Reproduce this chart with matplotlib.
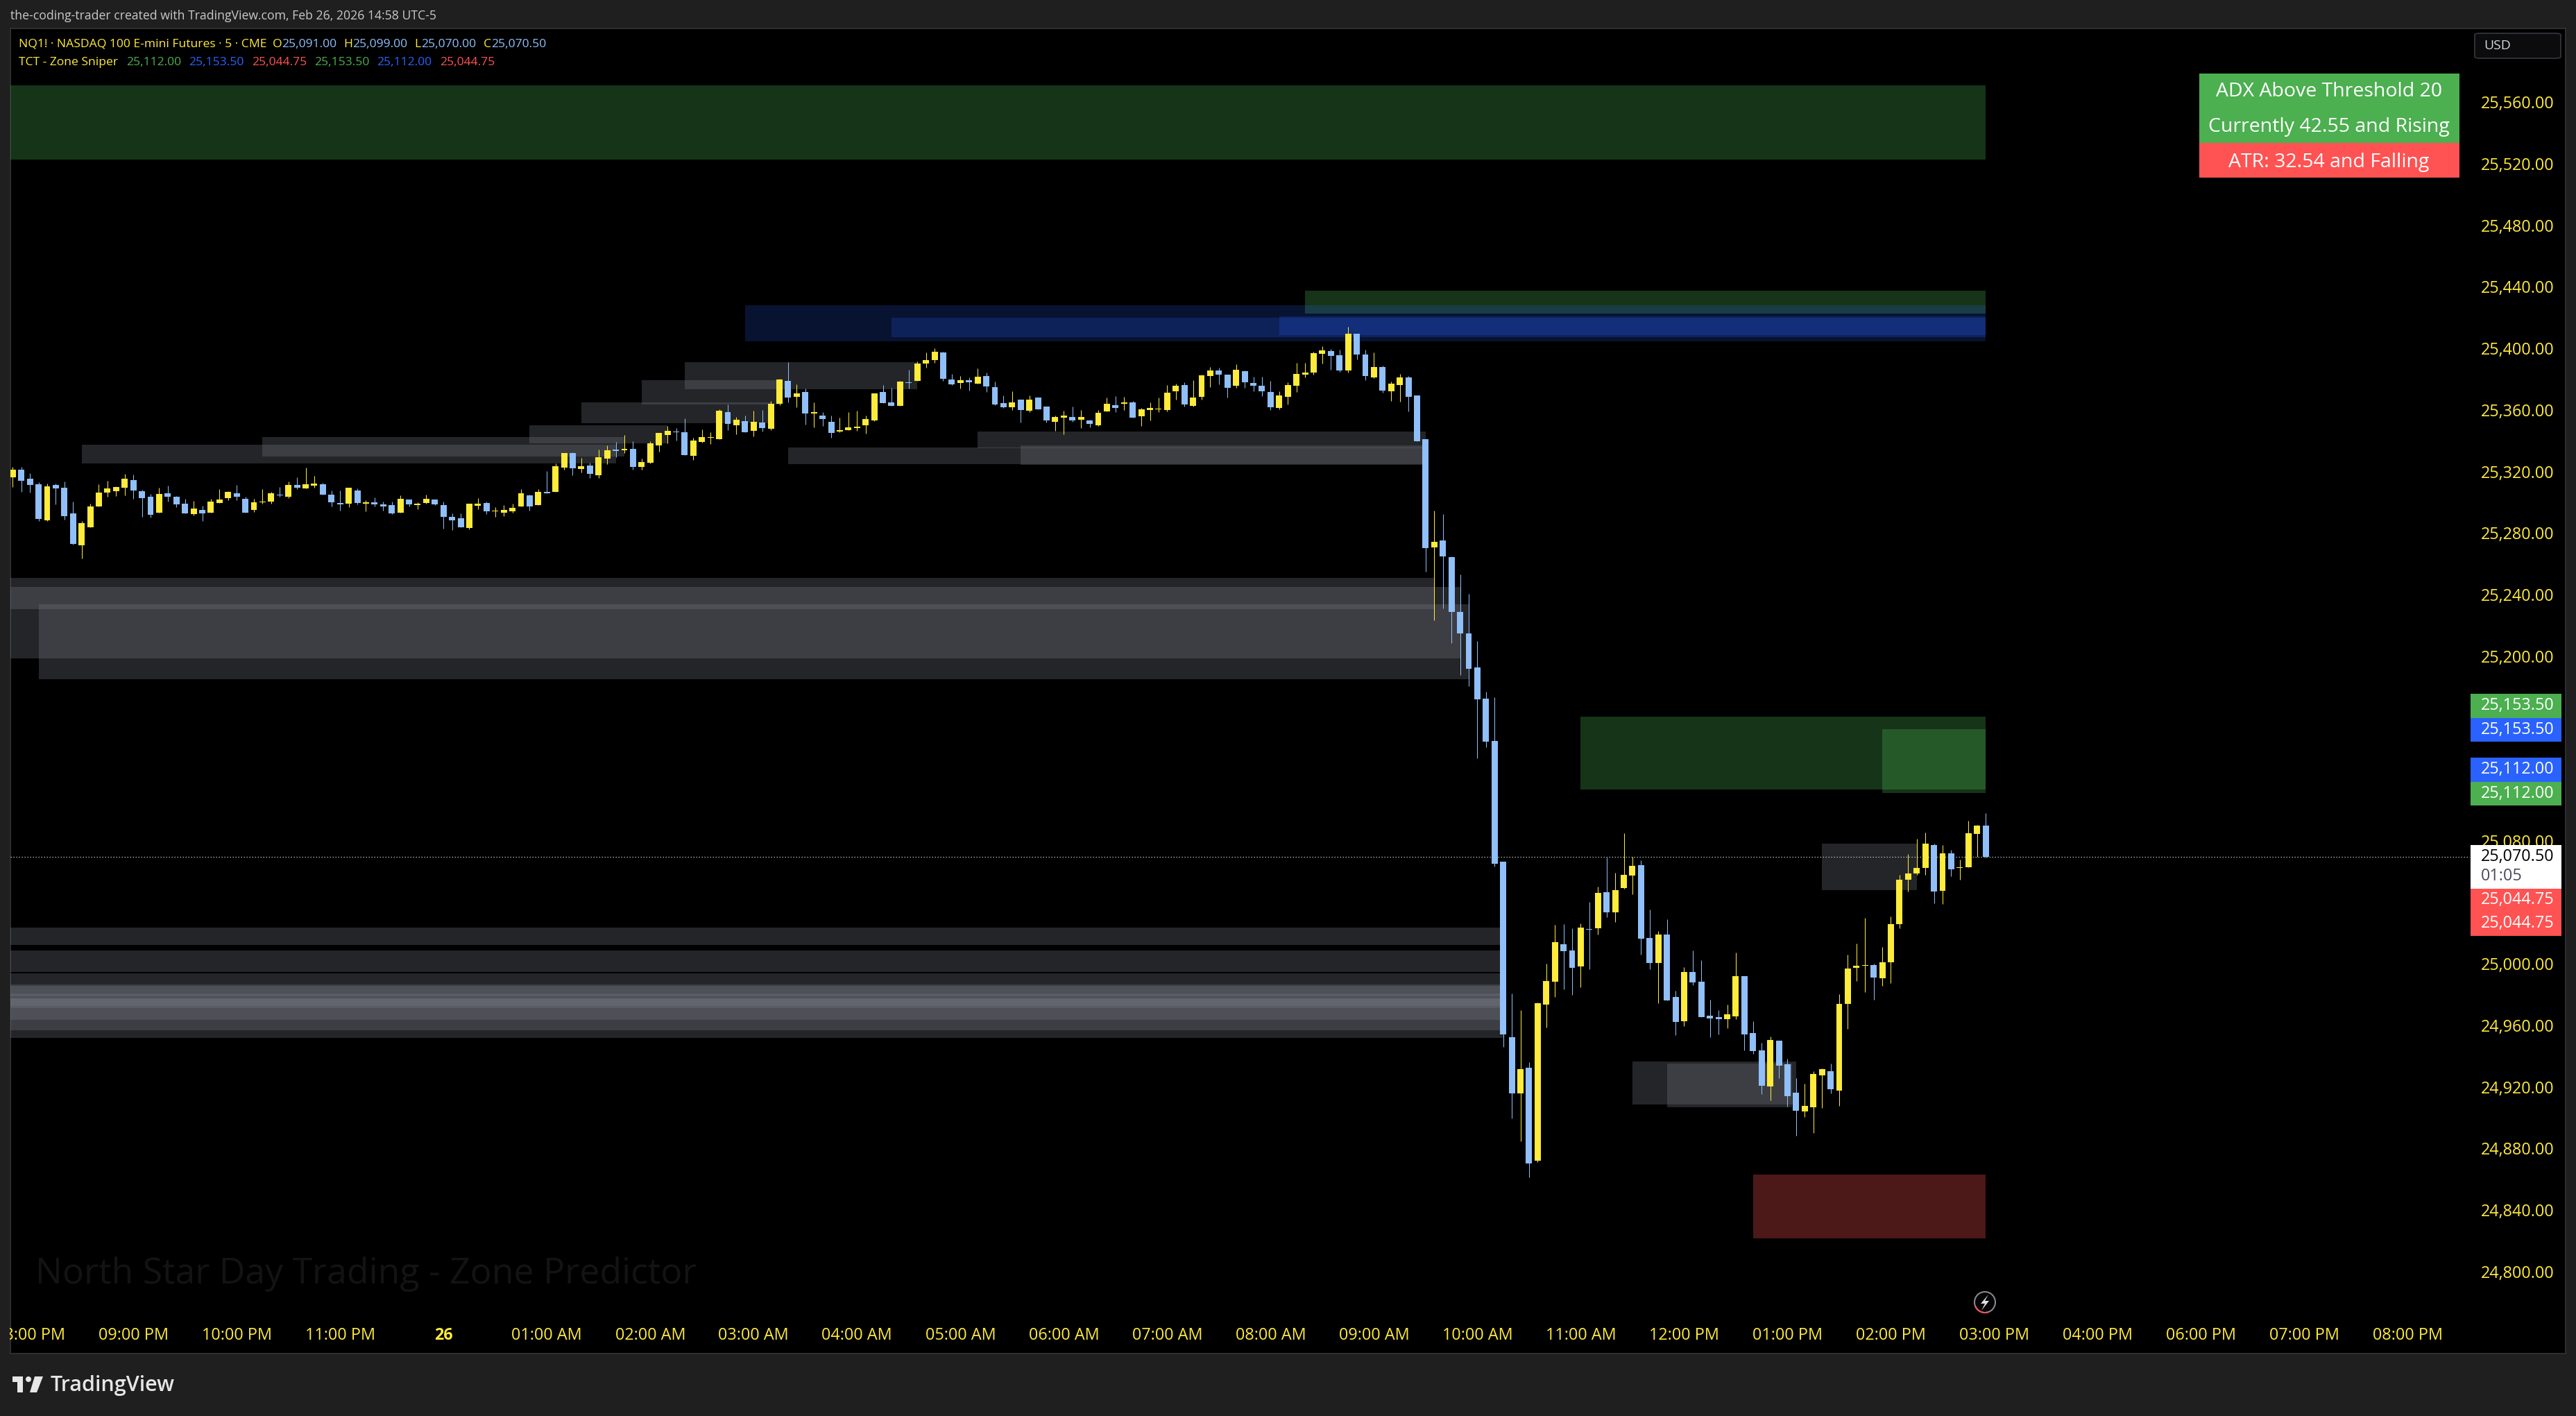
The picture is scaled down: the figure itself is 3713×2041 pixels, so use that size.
import numpy as np
import matplotlib
matplotlib.use("Agg")
import matplotlib.pyplot as plt
from matplotlib.patches import Rectangle, Circle, Polygon, FancyBboxPatch, Arc
from matplotlib.transforms import IdentityTransform, ScaledTranslation

opens = [25317.5, 25322.25, 25316.5, 25312.75, 25289.5, 25312.5, 25310.5, 25294, 25273.25, 25285,
    25298.5, 25307.5, 25308.25, 25310.5, 25315.5, 25308.25, 25304.75, 25294.25, 25307, 25304.75,
    25300.25, 25293.5, 25296.25, 25294.25, 25300.75, 25303.75, 25307, 25303.5, 25296.25, 25301,
    25301.5, 25306, 25304.75, 25312.5, 25310, 25312, 25312.75, 25306, 25300.75, 25300.25,
    25308.75, 25300.25, 25301, 25299.75, 25299.25, 25294.5, 25303, 25299.5, 25300.75, 25303,
    25299.5, 25291.75, 25290.75, 25284.5, 25299, 25300.75, 25295.25, 25294.5, 25295.25, 25298.5,
    25305.75, 25299.5, 25308, 25308, 25323.75, 25333.25, 25322.75, 25325, 25318.75, 25329.5,
    25335.5, 25335, 25336, 25324, 25327, 25338, 25345, 25347, 25346.75, 25331.5,
    25340.5, 25343, 25342.25, 25359.75, 25351.25, 25354, 25347.5, 25353, 25349, 25365.25,
    25380, 25369.75, 25372.75, 25358.75, 25357.5, 25353.5, 25347, 25348, 25349.5, 25351.25,
    25354.25, 25372.75, 25366, 25363.75, 25379, 25380, 25391.25, 25393.5, 25398.5, 25381,
    25378.75, 25380.5, 25378.25, 25383.25, 25376, 25365.5, 25363, 25368, 25360.5, 25369.25,
    25363.25, 25353.5, 25356, 25356.5, 25354.75, 25354.25, 25351.25, 25360.25, 25364.25, 25365.25,
    25366, 25357, 25361, 25361.5, 25361, 25373.25, 25377.25, 25363.75, 25369.75, 25383.25,
    25386.75, 25384, 25377, 25386.25, 25378.75, 25377, 25372.75, 25362.5, 25369.75, 25377,
    25384, 25385.5, 25397.5, 25399.5, 25396.75, 25386.75, 25410.75, 25397.25, 25382.25, 25389,
    25373.25, 25377.25, 25382.25, 25370.5, 25342.25, 25271.75, 25276.25, 25265.5, 25230, 25216,
    25193.75, 25173.5, 25145.75, 25067.5, 24953.5, 24917, 24933.75, 24873, 24974.5, 24989.5,
    25014, 25009.75, 24999.5, 25023.75, 25024.25, 25047.75, 25034.5, 25050.5, 25058.5, 25065.25,
    25018, 25001.75, 25020.25, 24979.5, 24963.75, 24995.75, 24989.5, 24967.5, 24966.5, 24965.25,
    24967, 24993, 24956, 24945, 24921.5, 24951.25, 24936, 24917.5, 24905.25, 24908,
    24928.5, 24931.25, 24918.75, 24975, 24998.5, 25000, 25000.25, 24991.75, 25002, 25027,
    25055.75, 25060, 25063.5, 25078.25, 25048.5, 25073, 25063.5, 25064, 25085.5, 25091]

highs = [25324, 25324, 25320, 25314.25, 25313.25, 25313.25, 25314.75, 25301.5, 25289, 25300.25,
    25312.75, 25315, 25311.5, 25319.5, 25319.25, 25309.25, 25306.5, 25310.5, 25312, 25305.25,
    25303.5, 25302, 25299, 25303.5, 25309.75, 25308.25, 25312.5, 25304.75, 25303.5, 25309.75,
    25308, 25311, 25314.75, 25317.5, 25323.75, 25318.25, 25313.75, 25308.75, 25308.75, 25310.5,
    25310.25, 25302.5, 25304.25, 25301.5, 25301.5, 25305.75, 25303, 25301, 25306, 25303,
    25301.5, 25294, 25294, 25300.25, 25304, 25301.5, 25298, 25299.5, 25300.25, 25309.75,
    25306, 25309.75, 25321.5, 25326.5, 25333.25, 25333.5, 25330, 25327, 25335.5, 25338,
    25340.5, 25345, 25340.75, 25329.5, 25340.75, 25346.25, 25350.75, 25349.5, 25355.75, 25343,
    25348.5, 25346.75, 25361.5, 25364.75, 25356.5, 25357.5, 25360.5, 25361, 25367, 25381.5,
    25392.25, 25377.75, 25375, 25366, 25359.75, 25357.5, 25356, 25359.75, 25360.5, 25357.5,
    25372, 25377.25, 25375.5, 25380, 25387.25, 25392.75, 25398.5, 25401.25, 25399, 25384.5,
    25383.25, 25382.25, 25388.25, 25385.5, 25379.5, 25370.5, 25373.25, 25368, 25370.5, 25369.25,
    25363.25, 25357.5, 25360.5, 25363.25, 25361, 25354.75, 25361, 25369.25, 25370, 25369.75,
    25367, 25362.5, 25366, 25369.25, 25377.25, 25378.25, 25379, 25380.5, 25384, 25389,
    25388.5, 25384, 25391, 25386.75, 25382.75, 25382.75, 25380, 25373.25, 25379, 25391.75,
    25391.75, 25399, 25402.5, 25400.75, 25400.25, 25415.25, 25410.75, 25400.25, 25398.5, 25390,
    25379.5, 25384.5, 25383.25, 25370.5, 25342.25, 25295.5, 25293.5, 25266, 25254.25, 25241.5,
    25211, 25178, 25174.5, 25067.5, 24981.75, 24971, 24937, 24976, 25001.25, 25026.5,
    25027, 25024.25, 25027.5, 25041.5, 25051.25, 25070.25, 25060.25, 25086, 25070.75, 25068.5,
    25036.5, 25022.5, 25030, 24983.5, 24999, 25009.75, 25003.5, 24977.75, 24971, 24974.5,
    25008.5, 24993, 24963.75, 24949.75, 24954, 24951.25, 24939.5, 24926.75, 24923.25, 24931.25,
    24933, 24936.25, 24981.5, 25007, 25014.25, 25031, 25001.25, 25012, 25032, 25059,
    25072.5, 25082.5, 25086.5, 25079.25, 25078.25, 25075.25, 25069, 25094, 25091.5, 25099]

lows = [25311, 25308, 25307.5, 25289, 25289, 25299.75, 25289.75, 25273.5, 25264.5, 25285,
    25298.5, 25304.75, 25305.25, 25305.5, 25303.5, 25291.75, 25291.25, 25294.25, 25301.5, 25298,
    25294, 25292.5, 25289, 25294.25, 25300.75, 25302.5, 25302.5, 25294.25, 25294.75, 25300.25,
    25300.25, 25304.75, 25303.75, 25309.75, 25310, 25310.5, 25306, 25298.5, 25295.75, 25298,
    25299.75, 25295.25, 25298.5, 25295.75, 25293.5, 25294.5, 25298.5, 25296.5, 25300.25, 25299.5,
    25284, 25283, 25285, 25283.5, 25296.5, 25293.5, 25291.75, 25292, 25294.5, 25298.5,
    25295.75, 25299.5, 25307, 25308, 25322.25, 25318.75, 25320.5, 25317, 25317, 25326,
    25330.5, 25333.25, 25322.25, 25322.25, 25326.5, 25334, 25339.5, 25341.25, 25331.75, 25328.75,
    25340, 25339, 25342.25, 25348, 25345.25, 25346.75, 25344, 25347, 25348, 25364.25,
    25366, 25363, 25351.5, 25349.75, 25350.75, 25343, 25346.75, 25348, 25347.5, 25345.75,
    25354, 25365.5, 25363.75, 25363.75, 25375, 25380, 25388.5, 25391.75, 25380, 25377.25,
    25375, 25373.75, 25378.25, 25372.75, 25364.25, 25362.5, 25361, 25353, 25359.75, 25361.5,
    25353, 25347.5, 25345.25, 25353.5, 25349.5, 25349.75, 25350.75, 25360.25, 25359.75, 25361,
    25356, 25350.75, 25354.25, 25359.75, 25360.25, 25368, 25363.25, 25363.25, 25368, 25376,
    25377.75, 25369.25, 25375.5, 25375.5, 25373.25, 25370, 25361, 25361.5, 25364.75, 25372.75,
    25382.25, 25384, 25391.25, 25387.25, 25386, 25385.5, 25394, 25380.5, 25381.75, 25372.5,
    25367, 25366.5, 25360.25, 25340.75, 25256, 25224.5, 25232, 25209.75, 25189, 25181.75,
    25134.5, 25142, 25064.5, 24947, 24900.75, 24885.75, 24862.5, 24872, 24959.75, 24979.5,
    24984.5, 24981, 24986, 24997.5, 25020.25, 25031.5, 25028.25, 25050, 25046.25, 25007,
    24997.5, 24975.5, 24977.25, 24954.75, 24960.75, 24987.25, 24966.5, 24953.5, 24955.25, 24959.25,
    24965.25, 24945, 24942.5, 24916.5, 24912.5, 24926.75, 24908.5, 24889.5, 24901.5, 24891.25,
    24907.5, 24917, 24908.75, 24959, 24990, 24982.75, 24977.75, 24986.75, 24988.5, 25024.25,
    25048, 25059, 25059, 25040.5, 25040, 25058, 25055.75, 25064, 25070.75, 25070]

closes = [25322.25, 25315, 25312.5, 25290.25, 25311.5, 25310, 25292, 25274, 25287.5, 25298.5,
    25307.5, 25310, 25311, 25316.5, 25308.75, 25303.75, 25293, 25306.5, 25304.75, 25299.75,
    25294, 25297, 25294, 25301.5, 25303, 25308, 25304.75, 25294.25, 25301, 25301.5,
    25307, 25305.5, 25312.5, 25310.5, 25312.75, 25313.25, 25306, 25301, 25299.75, 25310.5,
    25300.75, 25301, 25299.75, 25298.5, 25294, 25303.5, 25299.75, 25300.25, 25303.5, 25299.75,
    25291.75, 25289.5, 25285, 25300.25, 25300.25, 25295.25, 25295.75, 25296.25, 25297.5, 25307,
    25298.5, 25308, 25307, 25324.5, 25333.25, 25323.25, 25324.5, 25319.5, 25330.5, 25335,
    25334.5, 25336, 25324, 25327.25, 25339.5, 25346.25, 25347.5, 25346.75, 25331.75, 25341.25,
    25343.5, 25343.5, 25360.5, 25352, 25354.75, 25346.75, 25353.5, 25349.5, 25365.25, 25381,
    25369.25, 25372, 25358.75, 25359.75, 25355.25, 25346.25, 25348, 25349.75, 25350.25, 25355.25,
    25372, 25365.5, 25363.75, 25379.5, 25378.75, 25391.25, 25393.5, 25399, 25381.5, 25377.75,
    25380.5, 25379, 25382.75, 25376.5, 25364.75, 25363, 25366, 25361, 25368, 25361.5,
    25354.25, 25356.5, 25357.5, 25354.25, 25356.5, 25352, 25359.25, 25365.25, 25362.5, 25366,
    25356, 25361.5, 25362.5, 25362, 25372.5, 25377, 25364.75, 25369.25, 25383.5, 25386.75,
    25384, 25375.5, 25387.25, 25379, 25377, 25373.25, 25363, 25370.5, 25377.25, 25384.5,
    25385.5, 25398, 25400, 25396.25, 25386.75, 25410.75, 25397.25, 25383.25, 25389, 25373.75,
    25378.25, 25382.25, 25369.75, 25340.75, 25271.5, 25275.25, 25266, 25230, 25216, 25192.75,
    25173, 25145.5, 25066.25, 24955.25, 24917, 24932.75, 24871.5, 24975.5, 24990, 25015.25,
    25009.5, 24998.5, 25024.75, 25023.25, 25047.25, 25034.5, 25049, 25059, 25064.75, 25017.5,
    25001.75, 25020.25, 24977.25, 24963.5, 24995.75, 24989, 24966.5, 24965.5, 24965.25, 24968.25,
    24993, 24955.25, 24944.5, 24922, 24951.5, 24935, 24915, 24905.5, 24908.75, 24929.5,
    24932.75, 24919.5, 24975, 24998, 25000, 25000.25, 24992.25, 25002, 25027, 25055.75,
    25060, 25063.5, 25079.25, 25048, 25073, 25062.5, 25064, 25086, 25091, 25070.5]

# zones: first bar, last bar, top price, bottom price
gray_zones = [(8, 70, 25338.5, 25326.5), (29, 71, 25343.5, 25331), (60, 76, 25351, 25339.5),
    (66, 88, 25366, 25352.5), (73, 89, 25380.5, 25364.75), (78, 105, 25392.25, 25374.5),
    (112, 164, 25347, 25336.25), (90, 164, 25336.75, 25326), (117, 164, 25338, 25325.5),
    (-2, 165, 25252, 25231.5), (-2, 168, 25246.25, 25199.75), (3, 169, 25235, 25186.25),
    (-2, 173, 25024.5, 25013.25), (-2, 173, 25009.75, 24995.75), (-2, 173, 24995, 24953),
    (-2, 173, 24987.5, 24958), (-2, 173, 24986.75, 24964.5), (-2, 173, 24981.75, 24980),
    (-2, 173, 24978.5, 24972.25), (-2, 173, 24978.5, 24973.75),
    (210, 221, 25079.25, 25049), (188, 207, 24937.75, 24909.75), (192, 206.5, 24936.25, 24908)]
green_zones = [(-2, 229, 25572, 25524), (150, 229, 25438.5, 25423.75),
    (182, 229, 25161.75, 25114.5), (217, 229, 25153.5, 25112)]
blue_zones = [(85, 229, 25429.25, 25405.75), (102, 229, 25421, 25408.5), (147, 229, 25422, 25409.75)]
red_zones = [(202, 229, 24864, 24822.5)]

price_ticks = list(range(24800, 25561, 40))
time_bars = [2, 14, 26, 38, 50, 62, 74, 86, 98, 110, 122, 134, 146, 158, 170, 182, 194, 206, 218, 230, 242, 254, 266, 278]
time_labels = ["08:00 PM", "09:00 PM", "10:00 PM", "11:00 PM", "26", "01:00 AM", "02:00 AM", "03:00 AM",
    "04:00 AM", "05:00 AM", "06:00 AM", "07:00 AM", "08:00 AM", "09:00 AM", "10:00 AM", "11:00 AM",
    "12:00 PM", "01:00 PM", "02:00 PM", "03:00 PM", "04:00 PM", "06:00 PM", "07:00 PM", "08:00 PM"]

legend_ohlc = ["25,091.00", "25,099.00", "25,070.00", "25,070.50"]
legend_zone = ["25,112.00", "25,153.50", "25,044.75", "25,153.50", "25,112.00", "25,044.75"]

plt.rcParams['font.family'] = ['Open Sans', 'DejaVu Sans']

W, H = 3713, 2041
YELLOW = "#ffeb3b"
CANDLE_BLUE = "#90bff9"
GREEN = "#4caf50"
BLUE = "#2962ff"
RED = "#ff5252"
GRAY = "#787b86"
FRAME = "#1f1f1f"
PX = 0.72  # one pixel in points at dpi 100

fig = plt.figure(figsize=(W / 100, H / 100), dpi=100, facecolor=FRAME)
screen = IdentityTransform()


def rect(x0, y0, x1, y1, **kw):
    kw.setdefault("linewidth", 0)
    p = Rectangle((x0 / W, 1 - y1 / H), (x1 - x0) / W, (y1 - y0) / H, transform=fig.transFigure, **kw)
    fig.add_artist(p)
    return p


def put(x, y, s, size=12.6, color="white", ha="left", **kw):
    return fig.text(x / W, 1 - y / H, s, fontsize=size, color=color, ha=ha, va="center", zorder=20, **kw)


def dots(points, **kw):
    fig.add_artist(Polygon([(x, H - y) for x, y in points], closed=True, transform=screen, linewidth=0, **kw))


rect(15, 41, 3698, 1951, facecolor="black", edgecolor="#2e2e2e", linewidth=2 * PX, zorder=-5)

ax = fig.add_axes([15 / W, 1 - 1895 / H, (3560 - 15) / W, (1895 - 41) / H], facecolor="none")
ax.set_xlim(-0.266, 285.2)
ax.set_ylim(24773.0, 25609.1)
for s in ax.spines.values():
    s.set_visible(False)

for zones, col, al in [(gray_zones, GRAY, 0.3), (green_zones, GREEN, 0.3), (blue_zones, BLUE, 0.2), (red_zones, RED, 0.3)]:
    for z in zones:
        ax.add_patch(Rectangle((z[0], z[3]), z[1] - z[0], z[2] - z[3], facecolor=col, alpha=al, linewidth=0, zorder=1))

ax.axhline(closes[-1], color="#d8d8d8", lw=1 * PX, ls=(0, (1.5, 2.5)), zorder=2)

idx = np.arange(len(opens))
o = np.array(opens)
c = np.array(closes)
up = c >= o
cols = np.where(up, YELLOW, CANDLE_BLUE)
ax.vlines(idx, lows, highs, colors=cols, linewidth=1 * PX, zorder=3)
ax.bar(idx, np.abs(c - o), bottom=np.minimum(o, c), width=0.72, color=cols, linewidth=0, zorder=4)

ax.yaxis.tick_right()
ax.set_yticks(price_ticks)
ax.set_yticklabels([f"{p:,.2f}" for p in price_ticks])
ax.tick_params(axis="y", length=0, pad=16 * PX, labelsize=16.8, labelcolor=YELLOW)
ax.set_xticks(time_bars)
ax.set_xticklabels(time_labels)
ax.tick_params(axis="x", length=0, pad=18 * PX, labelsize=16.8, labelcolor=YELLOW)
for lab, txt in zip(ax.get_xticklabels(), time_labels):
    if txt == "26":
        lab.set_fontweight("bold")
up_shift = ScaledTranslation(0, 2.5 * PX / 72, fig.dpi_scale_trans)
for lab in ax.get_yticklabels():
    lab.set_transform(lab.get_transform() + up_shift)

# cover the clipped first time label
rect(0, 1900, 14, 1950, facecolor=FRAME, zorder=10)

# header and legend
put(15, 23, "the-coding-trader created with TradingView.com, Feb 26, 2026 14:58 UTC-5", size=12.7, color="#c8c8c8")
put(27, 64, "NQ1! · NASDAQ 100 E-mini Futures · 5 · CME", color=YELLOW)
for x, letter, x2, v in zip([393, 495, 597, 697], "OHLC", [406, 508, 607, 708], legend_ohlc):
    put(x, 64, letter, color=YELLOW)
    put(x2, 64, v, color=CANDLE_BLUE)
put(27, 90, "TCT - Zone Sniper", color=YELLOW)
for x, v, col in zip([182, 272, 363, 453, 543, 634], legend_zone, [GREEN, BLUE, RED, GREEN, BLUE, RED]):
    put(x, 90, v, color=col)

# status box
rect(3170, 106, 3545, 206, facecolor=GREEN, zorder=15)
rect(3170, 206, 3545, 256, facecolor=RED, zorder=15)
put(3357, 132, "ADX Above Threshold 20", size=20.5, ha="center")
put(3357, 183, "Currently 42.55 and Rising", size=20.5, ha="center")
put(3357, 234, "ATR: 32.54 and Falling", size=20.5, ha="center")

# USD button
fig.add_artist(FancyBboxPatch((3567 / W, 1 - 84 / H), 124 / W, 36 / H, boxstyle="round,pad=0,rounding_size=0.002",
    transform=fig.transFigure, facecolor="#0c0c0c", edgecolor="#2e3038", linewidth=2 * PX, mutation_aspect=H / W, zorder=10))
put(3580, 66, "USD", size=14, color="#d1d4dc")

# price tags
tags = [(1000, 1035, GREEN, "25,153.50"), (1035, 1069, BLUE, "25,153.50"), (1092, 1127, BLUE, "25,112.00"),
    (1127, 1161, GREEN, "25,112.00"), (1281, 1314, RED, "25,044.75"), (1314, 1349, RED, "25,044.75")]
for y0, y1, col, s in tags:
    rect(3561, y0, 3692, y1, facecolor=col, zorder=15)
    put(3576, (y0 + y1) / 2, s, size=16.8)
rect(3561, 1218, 3692, 1281, facecolor="white", zorder=15)
put(3576, 1235, "25,070.50", size=16.8, color="black")
put(3576, 1263, "01:05", size=16.8, color="#4a4a5a")

# watermark
put(51, 1836, "North Star Day Trading - Zone Predictor", size=37.3, color="#131313")

# lightning badge near the time scale
fig.add_artist(Circle((2861, H - 1877), 15, transform=screen, facecolor="#050505", edgecolor="#8a8d96", linewidth=2 * PX, zorder=12))
fig.add_artist(Arc((2861, H - 1877), 30, 30, theta1=200, theta2=290, transform=screen, edgecolor="#f7525f", linewidth=2 * PX, zorder=13))
fig.add_artist(Polygon([(2866, H - 1866), (2855, H - 1879), (2861, H - 1879), (2856, H - 1889), (2867, H - 1875), (2861, H - 1875)],
    closed=True, transform=screen, facecolor="#e0e0e0", linewidth=0, zorder=13))

# TradingView logo
LOGO = "#e6e6e6"
rect(18, 1984, 33, 1992, facecolor=LOGO)
rect(25, 1984, 33, 2007, facecolor=LOGO)
fig.add_artist(Circle((41, H - 1988), 4, transform=screen, facecolor=LOGO, linewidth=0))
dots([(50, 1984), (62, 1984), (53, 2007), (43, 2007)], facecolor=LOGO)
put(73, 1997, "TradingView", size=22, color=LOGO, fontweight="semibold")

fig.savefig("out.png", dpi=100, facecolor=FRAME)
